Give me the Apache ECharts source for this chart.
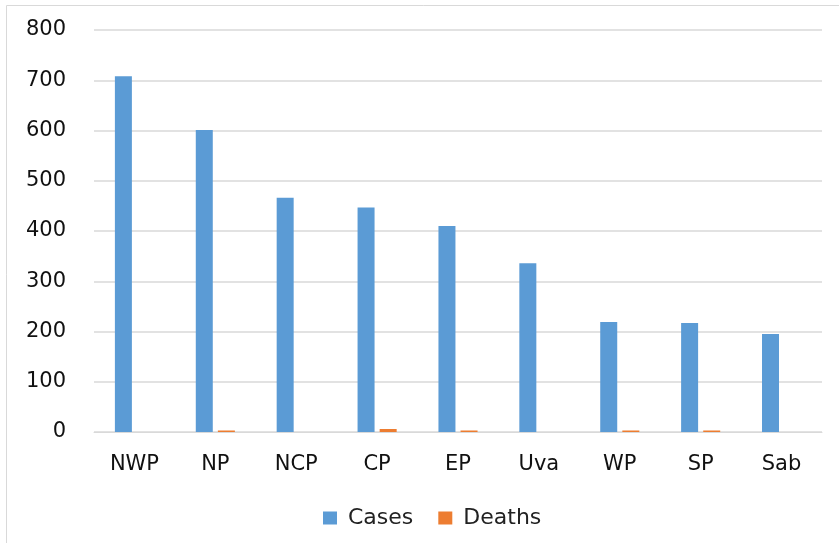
<!DOCTYPE html>
<html>
<head>
<meta charset="utf-8">
<script src="https://cdn.jsdelivr.net/npm/echarts@6/dist/echarts.min.js"></script>
<style>
  html, body { margin: 0; padding: 0; background: #fff; }
  #main { width: 839px; height: 543px; }
</style>
</head>
<body>
<div id="main"></div>
<script>
// regions
var categories = ['NWP', 'NP', 'NCP', 'CP', 'EP', 'Uva', 'WP', 'SP', 'Sab']
var cases = [708, 601, 466, 447, 410, 336, 219, 217, 195]
var deaths = [0, 3, 0, 6, 3, 0, 3, 3, 0]
var yTicks = [0, 100, 200, 300, 400, 500, 600, 700, 800]

var font = 'DejaVu Sans'
var chart = echarts.init(document.getElementById('main'))
var option = {
  animation: false,
  graphic: [
    {
      type: 'rect',
      shape: { x: 6.5, y: 5.5, width: 900, height: 600 },
      style: { fill: 'none', stroke: '#d9d9d9', lineWidth: 1 },
      silent: true
    }
  ],
  grid: { left: 94, right: 17, top: 30, bottom: 111 },
  legend: {
    data: ['Cases', 'Deaths'],
    left: 318,
    top: 502,
    itemWidth: 14,
    itemHeight: 13,
    itemGap: 25,
    icon: 'rect',
    textStyle: { fontFamily: font, fontSize: 22, color: '#222', padding: [0, 0, 0, 6] }
  },
  xAxis: {
    type: 'category',
    data: categories,
    axisLine: { lineStyle: { color: '#d9d9d9', width: 1 } },
    axisTick: { show: false },
    axisLabel: { fontFamily: font, fontSize: 21, color: '#111', margin: 22 }
  },
  yAxis: {
    type: 'value',
    min: yTicks[0],
    max: yTicks[yTicks.length - 1],
    interval: 100,
    axisLine: { show: false },
    axisTick: { show: false },
    splitLine: { lineStyle: { color: '#d9d9d9', width: 1.5 } },
    axisLabel: { fontFamily: font, fontSize: 21, color: '#111', margin: 28 }
  },
  series: [
    {
      name: 'Cases',
      type: 'bar',
      data: cases,
      barWidth: 17,
      barGap: '30%',
      itemStyle: { color: '#5b9bd5' }
    },
    {
      name: 'Deaths',
      type: 'bar',
      data: deaths,
      barWidth: 17,
      itemStyle: { color: '#ed7d31' }
    }
  ]
}
chart.setOption(option)
</script>
</body>
</html>
